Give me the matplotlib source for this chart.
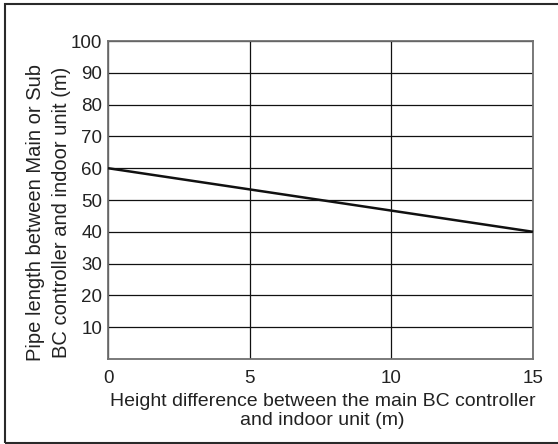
import matplotlib
matplotlib.use('Agg')
import matplotlib.pyplot as plt
from matplotlib.patches import Rectangle

plt.rcParams['font.family'] = ['Liberation Sans', 'DejaVu Sans']

# data
height_diff = [0, 15]
pipe_length = [60, 40]
x_ticks = [0, 5, 10, 15]
y_ticks = [10, 20, 30, 40, 50, 60, 70, 80, 90, 100]

W, H = 558, 444
fig = plt.figure(figsize=(W / 100, H / 100), dpi=100)

# outer frame, right side runs off the picture
fig.patches.append(Rectangle((4.5 / W, 1.5 / H), 560 / W, 438 / H,
                             transform=fig.transFigure, fill=False,
                             edgecolor='#2a2a2a', linewidth=1.5))

ax = fig.add_axes([108 / W, 1 - 359 / H, 425 / W, 318 / H])
ax.set_xlim(0, 15)
ax.set_ylim(0, 100)
ax.set_xticks(x_ticks)
ax.set_yticks(y_ticks)
ax.tick_params(length=0, labelsize=13.5, colors='#222222')
ax.tick_params(axis='x', pad=8)
ax.tick_params(axis='y', pad=4)

ax.grid(True, color='#111111', linewidth=0.9)
ax.set_axisbelow(True)
for s in ax.spines.values():
    s.set_color('#707070')
    s.set_linewidth(1.3)

ax.plot(height_diff, pipe_length, color='#111111', linewidth=1.8,
        solid_capstyle='butt', clip_on=False, zorder=3)

ax.set_xlabel('Height difference between the main BC controller\nand indoor unit (m)',
              fontsize=14, color='#222222', linespacing=1.12)
ax.set_ylabel('Pipe length between Main or Sub\nBC controller and indoor unit (m)',
              fontsize=14.5, color='#222222', linespacing=1.45)
ax.xaxis.set_label_coords(0.505, -0.107)
ax.yaxis.set_label_coords(-0.088, 0.462)

fig.savefig('out.png', dpi=100)
